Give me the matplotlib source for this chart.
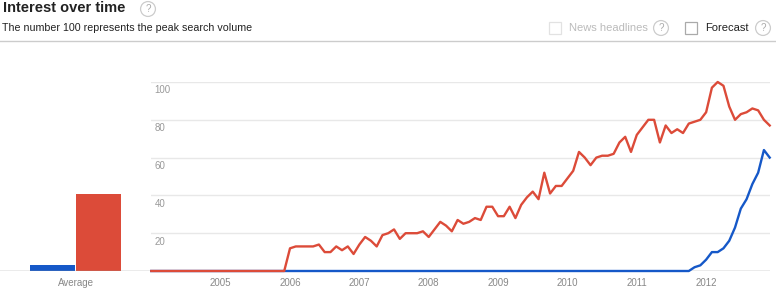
import matplotlib.pyplot as plt
from matplotlib.patches import Rectangle

plt.rcParams['font.family'] = ['Liberation Sans', 'DejaVu Sans']

# monthly search interest, Jan 2004 .. Dec 2012
red = [0, 0, 0, 0, 0, 0, 0, 0, 0, 0, 0, 0,
       0, 0, 0, 0, 0, 0, 0, 0, 0, 0, 0, 0,
       12, 13, 13, 13, 13, 14, 10, 10, 13, 11, 13, 9,
       14, 18, 16, 13, 19, 20, 22, 17, 20, 20, 20, 21,
       18, 22, 26, 24, 21, 27, 25, 26, 28, 27, 34, 34,
       29, 29, 34, 28, 35, 39, 42, 38, 52, 41, 45, 45,
       49, 53, 63, 60, 56, 60, 61, 61, 62, 68, 71, 63,
       72, 76, 80, 80, 68, 77, 73, 75, 73, 78, 79, 80,
       84, 97, 100, 98, 87, 80, 83, 84, 86, 85, 80, 77]
blue = [0, 0, 0, 0, 0, 0, 0, 0, 0, 0, 0, 0,
        0, 0, 0, 0, 0, 0, 0, 0, 0, 0, 0, 0,
        0, 0, 0, 0, 0, 0, 0, 0, 0, 0, 0, 0,
        0, 0, 0, 0, 0, 0, 0, 0, 0, 0, 0, 0,
        0, 0, 0, 0, 0, 0, 0, 0, 0, 0, 0, 0,
        0, 0, 0, 0, 0, 0, 0, 0, 0, 0, 0, 0,
        0, 0, 0, 0, 0, 0, 0, 0, 0, 0, 0, 0,
        0, 0, 0, 0, 0, 0, 0, 0, 0, 0, 2, 3,
        6, 10, 10, 12, 16, 23, 33, 38, 46, 52, 64, 60]
avg_labels = ['blue', 'red']
avg_values = [3, 41]
years = [2005, 2006, 2007, 2008, 2009, 2010, 2011, 2012]
yticks = [20, 40, 60, 80, 100]

RED = '#dc4b39'
BLUE = '#1558c8'
W, H = 776, 290

fig = plt.figure(figsize=(W / 100, H / 100), dpi=100)


def fx(x):
    return x / W


def fy(y):
    return 1 - y / H


# header
fig.text(fx(3), fy(8), 'Interest over time', fontsize=10.5, fontweight='bold',
         color='#222222', va='center', ha='left')
fig.text(fx(2), fy(28), 'The number 100 represents the peak search volume',
         fontsize=7.7, color='#222222', va='center', ha='left')
fig.add_artist(plt.Line2D([0, 1], [fy(41), fy(41)], color='#cccccc', lw=1))


def help_icon(x, y):
    fig.text(fx(x), fy(y), '?', fontsize=7, color='#aaaaaa', ha='center', va='center',
             bbox=dict(boxstyle='circle,pad=0.25', fc='white', ec='#cccccc', lw=0.9))


help_icon(148, 9)
help_icon(661, 28)
help_icon(763, 28)

fig.add_artist(Rectangle((fx(549), fy(34)), fx(12), 12 / H, transform=fig.transFigure,
                         fc='white', ec='#e2e2e2', lw=0.9))
fig.text(fx(569), fy(28), 'News headlines', fontsize=8, color='#bbbbbb', va='center')
fig.add_artist(Rectangle((fx(685), fy(34)), fx(12), 12 / H, transform=fig.transFigure,
                         fc='white', ec='#aaaaaa', lw=0.9))
fig.text(fx(705), fy(28), 'Forecast', fontsize=8, color='#222222', va='center')

# plot geometry: y=0 at 271px, y=100 at 82px
y0, y100 = 271, 82
ax_h = (y0 - y100) / H
ax_b = 1 - y0 / H

# average bars
axb = fig.add_axes([0, ax_b, fx(151), ax_h])
axb.bar([0, 1], avg_values, width=0.98, color=[BLUE, RED])
axb.set_xlim(-1.14, 2.14)
axb.set_ylim(0, 100)
axb.axhline(0, color='#999999', lw=1)
axb.set_xticks([0.5])
axb.set_xticklabels(['Average'])
axb.set_yticks([])
axb.tick_params(axis='x', length=0, pad=5, labelsize=7, labelcolor='#888888')
for s in axb.spines.values():
    s.set_visible(False)

# line chart
x0_px, x1_px = 151.3, 769.7
ax = fig.add_axes([fx(x0_px), ax_b, fx(x1_px - x0_px), ax_h])
months = [2004 + i / 12 for i in range(len(red))]
ax.set_xlim(months[0], months[-1])
ax.set_ylim(0, 100)
for v in yticks:
    ax.axhline(v, color='#e8e8e8', lw=1, zorder=0)
    ax.annotate(str(v), xy=(0, v), xycoords=('axes fraction', 'data'),
                xytext=(2.5, -2.5), textcoords='offset points', va='top', ha='left',
                fontsize=7, color='#999999')
ax.axhline(0, color='#999999', lw=1, zorder=1)
ax.plot(months, blue, color=BLUE, lw=1.7, clip_on=False, zorder=3,
        solid_joinstyle='round')
ax.plot(months, red, color=RED, lw=1.7, clip_on=False, zorder=4,
        solid_joinstyle='round')
ax.set_xticks(years)
ax.set_xticklabels([str(y) for y in years])
ax.set_yticks([])
ax.tick_params(axis='x', length=0, pad=5, labelsize=7, labelcolor='#888888')
for s in ax.spines.values():
    s.set_visible(False)
ax.patch.set_alpha(0)

fig.savefig('out.png', dpi=100)
